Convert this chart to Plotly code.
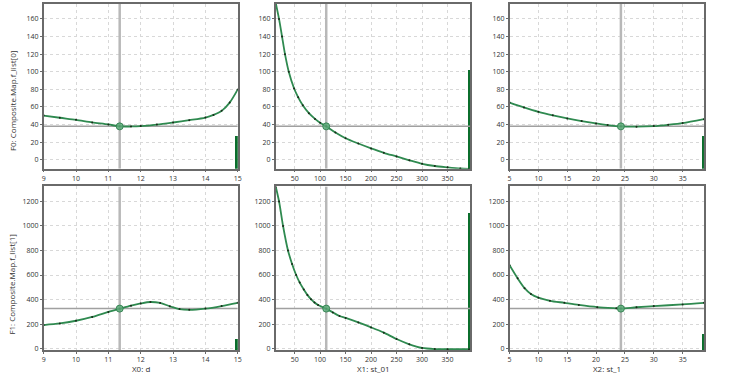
import plotly.graph_objects as go

# ---------------- data ----------------
d_x = [9, 9.5, 10, 10.5, 11, 11.35, 11.7, 12, 12.5, 13, 13.5, 14, 14.25, 14.5, 14.75, 15]
f0_d = [50.3, 47.8, 45.4, 42.5, 40.2, 38.0, 37.9, 38.3, 40.0, 42.4, 45.0, 48.0, 51.0, 55.6, 65, 80]

st01_x = [13, 19.4, 25.3, 31.1, 38.5, 49, 57, 66, 78, 90, 100, 112, 130, 150, 175, 200, 225, 250, 275, 300, 325, 350, 375, 392]
f0_st01 = [178, 160, 140, 120, 100, 81, 71, 62, 53, 46.5, 42, 38, 31, 24.5, 18.5, 13, 8, 3.8, -0.5, -4.5, -7.0, -8.5, -9.8, -10.3]

st1_x = [5, 7.5, 10, 12.5, 15, 17.5, 20, 22, 24.3, 27, 30, 32.5, 35, 38.7]
f0_st1 = [65, 59.5, 54.5, 50.5, 47, 44, 41.3, 39.5, 38.0, 37.7, 38.3, 39.8, 41.7, 46.2]

d_x2 = [9, 9.5, 10, 10.5, 11, 11.35, 11.7, 12, 12.3, 12.6, 12.9, 13.2, 13.5, 14, 14.5, 15]
f1_d = [192, 205, 227, 258, 299, 325, 350, 368, 380, 372, 345, 322, 316, 326, 347, 373]

st01_x2 = [13, 19.5, 27.3, 37, 45, 53, 60, 68, 75, 82, 89, 96, 112, 125, 138, 150, 175, 200, 225, 250, 275, 300, 325, 350, 392]
f1_st01 = [1320, 1200, 1000, 800, 690, 600, 538, 482, 438, 403, 376, 356, 325, 295, 266, 250, 213, 173, 130, 78, 35, 5, -4, -5, -5]

st1_x2 = [5, 6.4, 7.6, 8.7, 10, 12, 14.5, 17, 20.2, 23.5, 24.3, 27, 30, 35, 38.7]
f1_st1 = [680, 573, 493, 445, 415, 390, 373, 356, 338, 328, 326, 337, 347, 360, 373]

cur_x = [11.35, 112, 24.3]          # current point per input
cur_f = [38, 326]                   # current response per output
bar_vals = [[27, 102, 27], [72, 1101, 117]]   # sensitivity bars

x_ranges = [[9, 15], [13, 395], [5, 38.7]]
y_ranges = [[-10, 177], [-13, 1322]]
x_ticks = [[9, 10, 11, 12, 13, 14, 15], [50, 100, 150, 200, 250, 300, 350], [5, 10, 15, 20, 25, 30, 35]]
y_ticks = [[0, 20, 40, 60, 80, 100, 120, 140, 160], [0, 200, 400, 600, 800, 1000, 1200]]
x_titles = ["X0: d", "X1: st_01", "X2: st_1"]
y_titles = ["F0: Composite.Map.f_list[0]", "F1: Composite.Map.f_list[1]"]

curves = [[(d_x, f0_d), (st01_x, f0_st01), (st1_x, f0_st1)],
          [(d_x2, f1_d), (st01_x2, f1_st01), (st1_x2, f1_st1)]]

# ---------------- layout geometry (px) ----------------
W, H = 742, 375
col_px = [(42, 237.7), (276, 472.3), (511.7, 707.7)]
row_px = [(4, 170), (188, 353)]

LINE_GREEN = "#2f8a50"
BAR_GREEN = "#0b6e2c"

fig = go.Figure()
layout = dict(width=W, height=H, margin=dict(l=0, r=0, t=0, b=0),
              paper_bgcolor="white", plot_bgcolor="white", showlegend=False,
              font=dict(family="Open Sans, DejaVu Sans, sans-serif", size=7, color="#333"))

axis_common = dict(showline=True, mirror=True, linecolor="#6a6a6a", linewidth=1.5,
                   showgrid=True, gridcolor="#d8d8d8", griddash="dot", gridwidth=1,
                   zeroline=False, ticks="outside", ticklen=2, tickcolor="#6a6a6a",
                   tickfont=dict(size=7, color="#333"))

annotations = []
idx = 0
for r in range(2):
    for c in range(3):
        idx += 1
        xa = "xaxis" if idx == 1 else f"xaxis{idx}"
        ya = "yaxis" if idx == 1 else f"yaxis{idx}"
        xref = "x" if idx == 1 else f"x{idx}"
        yref = "y" if idx == 1 else f"y{idx}"
        x0, x1 = col_px[c]
        y0, y1 = row_px[r]
        xd = dict(axis_common, domain=[x0 / W, x1 / W], range=x_ranges[c],
                  tickvals=x_ticks[c], anchor=yref)
        yd = dict(axis_common, domain=[1 - y1 / H, 1 - y0 / H], range=y_ranges[r],
                  tickvals=y_ticks[r], anchor=xref)
        layout[xa] = xd
        layout[ya] = yd
        if r == 1:
            annotations.append(dict(text=x_titles[c], xref="paper", yref="paper",
                                    x=(x0 + x1) / 2 / W, y=1 - 365 / H, xanchor="center", yanchor="top",
                                    borderpad=0, showarrow=False, font=dict(size=8, color="#333")))

        xmin, xmax = x_ranges[c]
        ymin, ymax = y_ranges[r]
        # crosshair
        fig.add_trace(go.Scatter(x=[cur_x[c], cur_x[c]], y=[ymin, ymax], mode="lines",
                                 line=dict(color="#b8b8b8", width=2.5), xaxis=xref, yaxis=yref,
                                 hoverinfo="skip"))
        fig.add_trace(go.Scatter(x=[xmin, xmax], y=[cur_f[r], cur_f[r]], mode="lines",
                                 line=dict(color="#a0a0a0", width=1.5), xaxis=xref, yaxis=yref,
                                 hoverinfo="skip"))
        # curve
        cx, cy = curves[r][c]
        fig.add_trace(go.Scatter(x=cx, y=cy, mode="lines",
                                 line=dict(color=LINE_GREEN, width=1.8, shape="spline", smoothing=0.8),
                                 xaxis=xref, yaxis=yref))
        fig.add_trace(go.Scatter(x=cx, y=cy, mode="markers", marker=dict(color="#1a2a1a", size=2),
                                 xaxis=xref, yaxis=yref))
        # current point
        fig.add_trace(go.Scatter(x=[cur_x[c]], y=[cur_f[r]], mode="markers",
                                 marker=dict(color="rgba(90,170,120,0.85)", size=7,
                                             line=dict(color="rgba(50,130,80,0.9)", width=1)),
                                 xaxis=xref, yaxis=yref))
        # sensitivity bar at right edge
        w = (xmax - xmin) / (x1 - x0) * 2.8
        fig.add_trace(go.Bar(x=[xmax - w / 2], y=[bar_vals[r][c] - ymin], base=[ymin], width=[w],
                             marker=dict(color=BAR_GREEN, line=dict(width=0)),
                             xaxis=xref, yaxis=yref))

title_centers = [102, 287]
for r in range(2):
    annotations.append(dict(text=y_titles[r], xref="paper", yref="paper", x=10 / W, y=1 - title_centers[r] / H,
                            showarrow=False, textangle=-90, font=dict(size=8, color="#333"),
                            xanchor="center", yanchor="middle"))
layout["annotations"] = annotations
layout["bargap"] = 0
fig.update_layout(**layout)
fig.write_html("out.html")
